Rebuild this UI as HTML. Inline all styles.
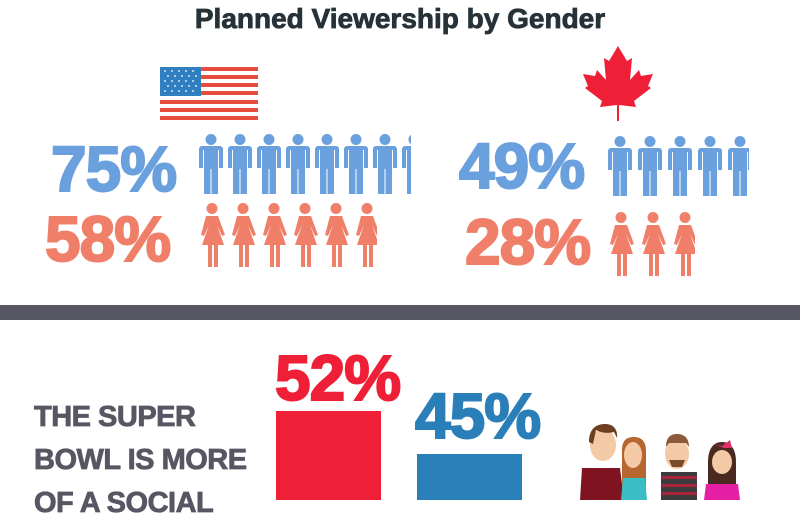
<!DOCTYPE html>
<html><head><meta charset="utf-8"><style>
html,body{margin:0;padding:0}
body{width:800px;height:500px;overflow:hidden;position:relative;background:#fff;font-family:"Liberation Sans",sans-serif}
.a{position:absolute}
.pct{position:absolute;font-weight:bold;font-size:64px;line-height:1;letter-spacing:-1px;-webkit-text-stroke:2px currentColor}
.row{position:absolute;overflow:hidden;white-space:nowrap;font-size:0}
.row svg{display:inline-block;vertical-align:top}
</style></head><body>
<svg width="0" height="0" style="position:absolute">
<defs>
<symbol id="man" viewBox="0 0 24 60"><circle cx="12" cy="5.5" r="5.5"/><path d="M3 12h18a3 3 0 0 1 3 3v19h-4v-18h-1v44h-6.5v-25h-1v25h-6.5v-44h-1v18h-4v-19a3 3 0 0 1 3-3z"/></symbol>
<symbol id="wom" viewBox="0 0 26 64"><circle cx="13" cy="5.5" r="5.5"/><path d="M7 13h12l7 19-3 1-5-11 7 20h-6v22h-4v-22h-2v22h-4v-22h-6l7-20-5 11-3-1z"/></symbol>
</defs></svg>

<div class="a" style="left:0;top:3px;width:800px;text-align:center;font-size:28px;font-weight:bold;color:#263238;-webkit-text-stroke:0.8px #263238">Planned Viewership by Gender</div>

<svg class="a" style="left:160px;top:67px" width="98" height="53" viewBox="0 0 98 53">
<g fill="#e84c3d"><rect y="0" width="98" height="4"/><rect y="8" width="98" height="4"/><rect y="16" width="98" height="4"/><rect y="24" width="98" height="4"/><rect y="33" width="98" height="4"/><rect y="41" width="98" height="4"/><rect y="49" width="98" height="4"/></g>
<rect width="41" height="29" fill="#2f7fc1"/>
<g fill="#fff" opacity=".8"><circle cx="5" cy="4" r="1"/><circle cx="12" cy="4" r="1"/><circle cx="19" cy="4" r="1"/><circle cx="26" cy="4" r="1"/><circle cx="33" cy="4" r="1"/><circle cx="8" cy="9" r="1"/><circle cx="15" cy="9" r="1"/><circle cx="22" cy="9" r="1"/><circle cx="29" cy="9" r="1"/><circle cx="36" cy="9" r="1"/><circle cx="5" cy="14" r="1"/><circle cx="12" cy="14" r="1"/><circle cx="19" cy="14" r="1"/><circle cx="26" cy="14" r="1"/><circle cx="33" cy="14" r="1"/><circle cx="8" cy="19" r="1"/><circle cx="15" cy="19" r="1"/><circle cx="22" cy="19" r="1"/><circle cx="29" cy="19" r="1"/><circle cx="36" cy="19" r="1"/><circle cx="5" cy="24" r="1"/><circle cx="12" cy="24" r="1"/><circle cx="19" cy="24" r="1"/><circle cx="26" cy="24" r="1"/><circle cx="33" cy="24" r="1"/></g>
</svg>

<svg class="a" style="left:582px;top:46px" width="72" height="76" viewBox="0 0 72 76">
<path fill="#ee1f36" d="M36 0l9 15 5-3-2 22 9-10 2 6 12-2-5 12 3 2-17 13 2 6-17-2h-2l-17 2 2-6-17-13 3-2-5-12 12 2 2-6 9 10-2-22 5 3z"/>
<rect x="35" y="57" width="2" height="18" fill="#ee1f36"/>
</svg>

<div class="pct" style="left:51px;top:137px;color:#6aa0dd">75%</div>
<div class="row" style="left:199px;top:134px;width:212px;height:62px;fill:#6aa0dd"><svg width="24" height="60" style="margin-right:5px"><use href="#man"/></svg><svg width="24" height="60" style="margin-right:5px"><use href="#man"/></svg><svg width="24" height="60" style="margin-right:5px"><use href="#man"/></svg><svg width="24" height="60" style="margin-right:5px"><use href="#man"/></svg><svg width="24" height="60" style="margin-right:5px"><use href="#man"/></svg><svg width="24" height="60" style="margin-right:5px"><use href="#man"/></svg><svg width="24" height="60" style="margin-right:5px"><use href="#man"/></svg><svg width="24" height="60"><use href="#man"/></svg></div>

<div class="pct" style="left:45px;top:207px;color:#f07f6a">58%</div>
<div class="row" style="left:199px;top:203px;width:178px;height:66px;fill:#f07f6a"><svg width="26" height="64" style="margin-right:5px"><use href="#wom"/></svg><svg width="26" height="64" style="margin-right:5px"><use href="#wom"/></svg><svg width="26" height="64" style="margin-right:5px"><use href="#wom"/></svg><svg width="26" height="64" style="margin-right:5px"><use href="#wom"/></svg><svg width="26" height="64" style="margin-right:5px"><use href="#wom"/></svg><svg width="26" height="64"><use href="#wom"/></svg></div>

<div class="pct" style="left:459px;top:134px;color:#6aa0dd">49%</div>
<div class="row" style="left:608px;top:136px;width:141px;height:62px;fill:#6aa0dd"><svg width="24" height="60" style="margin-right:6px"><use href="#man"/></svg><svg width="24" height="60" style="margin-right:6px"><use href="#man"/></svg><svg width="24" height="60" style="margin-right:6px"><use href="#man"/></svg><svg width="24" height="60" style="margin-right:6px"><use href="#man"/></svg><svg width="24" height="60"><use href="#man"/></svg></div>

<div class="pct" style="left:465px;top:210px;color:#f07f6a">28%</div>
<div class="row" style="left:608px;top:212px;width:87px;height:66px;fill:#f07f6a"><svg width="26" height="64" style="margin-right:6px"><use href="#wom"/></svg><svg width="26" height="64" style="margin-right:6px"><use href="#wom"/></svg><svg width="26" height="64"><use href="#wom"/></svg></div>

<div class="a" style="left:0;top:305px;width:800px;height:15px;background:#575763"></div>

<div class="a" style="left:34px;top:396px;font-size:29px;font-weight:bold;color:#575763;line-height:43px;letter-spacing:-0.5px;-webkit-text-stroke:0.8px #575763">THE SUPER<br>BOWL IS MORE<br>OF A SOCIAL</div>

<div class="pct" style="left:275px;top:346px;color:#ee1f36;font-size:64px">52%</div>
<div class="a" style="left:276px;top:411px;width:105px;height:89px;background:#ee1f36"></div>
<div class="pct" style="left:415px;top:384px;color:#2b7fb8;font-size:64px">45%</div>
<div class="a" style="left:417px;top:454px;width:105px;height:46px;background:#2b7fb8"></div>

<svg class="a" style="left:560px;top:400px" width="240" height="100" viewBox="0 0 240 100">
<path d="M22 68h38l4 32h-44z" fill="#7f1420"/>
<ellipse cx="43" cy="45" rx="13" ry="16" fill="#f4c9a6"/>
<path d="M29 42c0-14 8-18 16-18s13 5 12 14l-3-6c-8 2-14 0-18-2l-3 14z" fill="#6b3f1f"/>
<path d="M62 50c0-10 5-13 12-13s12 4 12 14v40h-24z" fill="#b5672f"/>
<ellipse cx="73" cy="55" rx="9" ry="13" fill="#f4c9a6"/>
<path d="M63 78h22l2 22h-26z" fill="#3bbdc6"/>
<ellipse cx="117" cy="54" rx="12" ry="15" fill="#f4c9a6"/>
<path d="M106 47c0-10 5-13 11-13s12 3 12 13l-3-4h-17z" fill="#8a5a3b"/>
<path d="M109 60h16l-3 7h-10z" fill="#7a4a2a"/>
<rect x="101" y="72" width="36" height="28" fill="#3b3b3b"/>
<g fill="#a8243a"><rect x="101" y="76" width="36" height="3"/><rect x="101" y="84" width="36" height="3"/><rect x="101" y="92" width="36" height="3"/></g>
<path d="M148 62c0-14 6-20 14-20s14 6 14 20v26h-28z" fill="#4a2a20"/>
<ellipse cx="162" cy="62" rx="10" ry="12" fill="#f4c9a6"/>
<path d="M154 44l8 2 8-6 2 8-8 0z" fill="#e0306a"/>
<path d="M146 84h32l2 16h-36z" fill="#e620a4"/>
</svg>
</body></html>
